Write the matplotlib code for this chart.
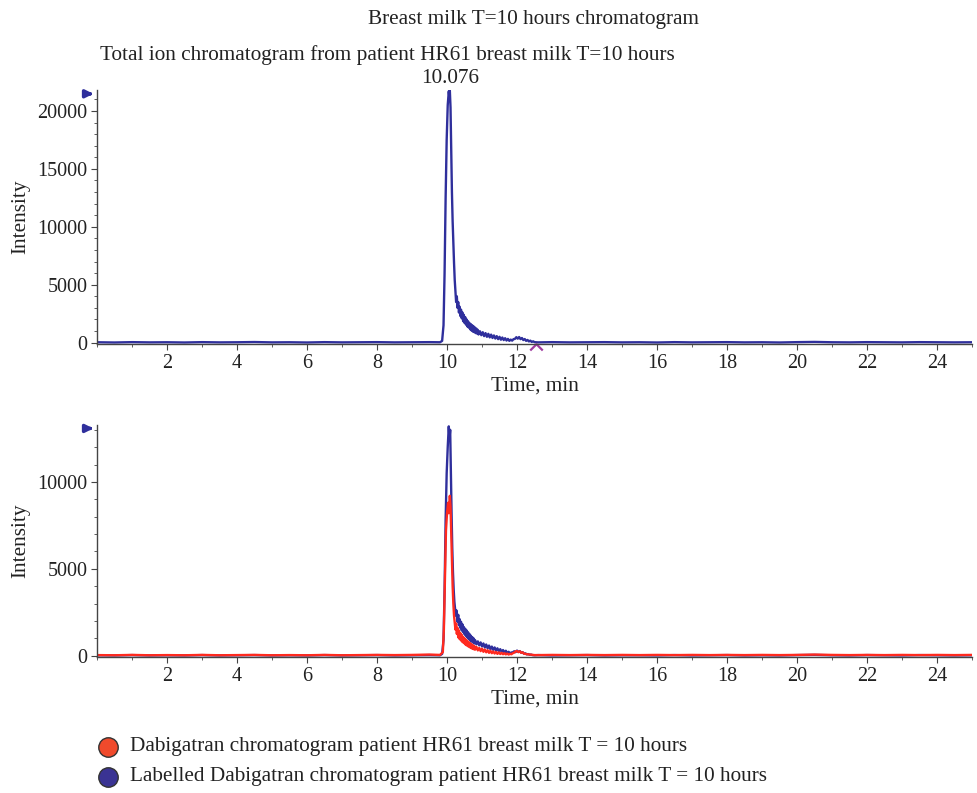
import matplotlib
matplotlib.use("Agg")
import matplotlib.pyplot as plt
from matplotlib.path import Path
from matplotlib.ticker import MultipleLocator

plt.rcParams['font.family'] = ['Liberation Serif', 'DejaVu Serif']

# ---------------- data ----------------
t_tic = [0.0, 0.5, 1.0, 1.5, 2.0, 2.5, 3.0, 3.5, 4.0, 4.5, 5.0, 5.5, 6.0, 6.5, 7.0, 7.5, 8.0,
         8.5, 9.0, 9.5, 9.8, 9.86, 9.90, 9.93, 9.96, 9.99, 10.02, 10.05, 10.07, 10.08, 10.10,
         10.12, 10.14, 10.16, 10.18, 10.20, 10.22, 10.24, 10.26, 10.28, 10.30, 10.32,
         10.34, 10.36, 10.38, 10.40, 10.42, 10.44, 10.46, 10.48, 10.50, 10.52, 10.54, 10.56,
         10.58, 10.60, 10.62, 10.64, 10.66, 10.68, 10.70, 10.72, 10.74, 10.76, 10.78, 10.80,
         10.82, 10.84, 10.86, 10.88, 10.90, 10.94, 10.98, 11.02, 11.06, 11.10, 11.14, 11.18,
         11.22, 11.26, 11.30, 11.34, 11.38, 11.42, 11.46, 11.50, 11.54, 11.58, 11.62, 11.66,
         11.70, 11.74, 11.78, 11.82, 11.86, 11.90, 11.94, 11.98, 12.02, 12.06, 12.10, 12.14,
         12.18, 12.22, 12.26, 12.30, 12.34, 12.38, 12.42, 12.46, 12.50, 12.6, 13.0, 13.5,
         14.0, 14.5, 15.0, 15.5, 16.0, 16.5, 17.0, 17.5, 18.0, 18.5, 19.0, 19.5, 20.0, 20.5,
         21.0, 21.5, 22.0, 22.5, 23.0, 23.5, 24.0, 24.5, 25.0]
i_tic = [30, 10, 40, 20, 30, 10, 40, 20, 30, 50, 20, 30, 10, 40, 20, 30, 40,
         20, 30, 40, 30, 150, 1500, 6000, 12500, 17500, 20500, 21700, 21100, 21800, 20300,
         16500, 13000, 10500, 8600, 6900, 5400, 4500, 3500, 4000, 3000, 3500,
         2600, 3100, 2300, 2850, 2100, 2600, 1850, 2400, 1700, 2200, 1550, 2000,
         1400, 1850, 1300, 1700, 1150, 1600, 1050, 1500, 950, 1400, 900, 1300,
         820, 1200, 780, 1100, 700, 980, 640, 900, 560, 820, 500, 760,
         450, 690, 400, 620, 350, 560, 300, 500, 250, 440, 220, 380,
         180, 320, 150, 260, 170, 300, 320, 470, 340, 480, 300, 400,
         220, 310, 150, 230, 100, 170, 60, 110, 40, 20, 40, 20,
         30, 40, 20, 30, 10, 40, 20, 30, 40, 20, 30, 10, 40, 60,
         30, 20, 40, 30, 20, 40, 30, 20, 30]

t_lab = [0.0, 0.5, 1.0, 1.5, 2.0, 2.5, 3.0, 3.5, 4.0, 4.5, 5.0, 5.5, 6.0, 6.5, 7.0, 7.5, 8.0,
         8.5, 9.0, 9.5, 9.8, 9.86, 9.90, 9.93, 9.96, 9.99, 10.02, 10.05, 10.07, 10.09, 10.11,
         10.13, 10.15, 10.17, 10.19, 10.21, 10.23, 10.25, 10.27, 10.30,
         10.32, 10.34, 10.36, 10.38, 10.40, 10.42, 10.44, 10.46, 10.48, 10.50, 10.52, 10.54,
         10.56, 10.58, 10.60, 10.62, 10.64, 10.66, 10.68, 10.70, 10.72, 10.74, 10.76, 10.78,
         10.80, 10.84, 10.88, 10.92, 10.96, 11.00, 11.04, 11.08, 11.12, 11.16, 11.20, 11.24,
         11.28, 11.32, 11.36, 11.40, 11.44, 11.48, 11.52, 11.56, 11.60, 11.64, 11.68, 11.72,
         11.76, 11.80, 11.84, 11.88, 11.92, 11.96, 12.00, 12.04, 12.08, 12.12, 12.16, 12.20,
         12.24, 12.28, 12.32, 12.36, 12.40, 12.44, 12.50, 12.6, 13.0, 13.5, 14.0, 14.5, 15.0,
         15.5, 16.0, 16.5, 17.0, 17.5, 18.0, 18.5, 19.0, 19.5, 20.0, 20.5, 21.0, 21.5, 22.0,
         22.5, 23.0, 23.5, 24.0, 24.5, 25.0]
i_lab = [20, 10, 30, 10, 20, 10, 30, 10, 20, 30, 10, 20, 10, 30, 10, 20, 30,
         10, 20, 30, 20, 100, 900, 3800, 7800, 10500, 12000, 13200, 12500, 13000, 10600,
         8200, 6200, 4800, 3800, 3100, 2700, 2300, 2600, 1950,
         2350, 1750, 2100, 1600, 1950, 1450, 1800, 1350, 1650, 1230, 1550, 1130,
         1450, 1050, 1350, 950, 1250, 880, 1150, 820, 1070, 760, 990, 700,
         900, 650, 820, 590, 760, 530, 700, 470, 640, 420, 580, 370,
         520, 330, 470, 290, 420, 250, 370, 220, 320, 180, 280, 150,
         220, 130, 180, 190, 250, 200, 290, 210, 260, 160, 200, 110,
         130, 70, 90, 50, 60, 30, 20, 30, 10, 20, 30, 10, 20,
         20, 10, 30, 10, 20, 30, 10, 20, 10, 30, 40, 20, 10, 30,
         20, 10, 30, 20, 10, 20]

t_dab = [0.0, 0.5, 1.0, 1.5, 2.0, 2.5, 3.0, 3.5, 4.0, 4.5, 5.0, 5.5, 6.0, 6.5, 7.0, 7.5, 8.0,
         8.5, 9.0, 9.5, 9.8, 9.88, 9.91, 9.94, 9.97, 10.00, 10.03, 10.05, 10.08, 10.10,
         10.12, 10.14, 10.16, 10.18, 10.20, 10.22, 10.24, 10.26, 10.28, 10.30, 10.32,
         10.34, 10.36, 10.38, 10.40, 10.42, 10.44, 10.46, 10.48, 10.50, 10.52, 10.54, 10.56,
         10.58, 10.60, 10.62, 10.64, 10.66, 10.68, 10.70, 10.72, 10.74, 10.76, 10.78, 10.80,
         10.84, 10.88, 10.92, 10.96, 11.00, 11.04, 11.08, 11.12, 11.16, 11.20, 11.24, 11.28,
         11.32, 11.36, 11.40, 11.44, 11.48, 11.52, 11.56, 11.60, 11.64, 11.68, 11.72, 11.76,
         11.80, 11.84, 11.88, 11.92, 11.96, 12.00, 12.04, 12.08, 12.12, 12.16, 12.20, 12.24,
         12.28, 12.32, 12.36, 12.40, 12.44, 12.50, 12.6, 13.0, 13.5, 14.0, 14.5, 15.0,
         15.5, 16.0, 16.5, 17.0, 17.5, 18.0, 18.5, 19.0, 19.5, 20.0, 20.5, 21.0, 21.5, 22.0,
         22.5, 23.0, 23.5, 24.0, 24.5, 25.0]
i_dab = [30, 20, 40, 20, 30, 20, 40, 20, 30, 40, 20, 30, 20, 40, 20, 30, 40,
         30, 40, 60, 40, 200, 1500, 4500, 7200, 8200, 8800, 8200, 9200, 8600,
         7100, 5400, 4000, 3000, 2300, 1900, 1500, 1850, 1250, 1600, 1050,
         1450, 950, 1300, 870, 1200, 780, 1080, 720, 1000, 650, 920, 590,
         850, 540, 780, 490, 720, 440, 660, 400, 600, 370, 550, 340,
         500, 300, 440, 260, 400, 220, 350, 190, 310, 160, 280, 140,
         240, 120, 210, 100, 190, 90, 160, 80, 140, 70, 120, 60,
         100, 80, 140, 170, 240, 260, 200, 250, 160, 190, 110, 100,
         80, 70, 60, 50, 40, 30, 30, 40, 30, 40, 30, 40,
         30, 40, 30, 40, 30, 40, 30, 40, 30, 40, 60, 40, 30, 40,
         30, 40, 30, 40, 30, 40]

x_ticks = [2, 4, 6, 8, 10, 12, 14, 16, 18, 20, 22, 24]
peak_label = "10.076"
peak_time = 10.076
peak_int = 21800
marker_time = 12.55

BLUE = "#2f2f9c"
RED = "#ff2a1f"

fig = plt.figure(figsize=(9.78, 7.93), dpi=100)
ax1 = fig.add_axes([0.0992, 0.5662, 0.8947, 0.3203])
ax2 = fig.add_axes([0.0992, 0.1715, 0.8947, 0.2926])

FS = 15.3
TFS = 14.5
for ax in (ax1, ax2):
    ax.set_xlim(0, 25)
    for s in ("top", "right"):
        ax.spines[s].set_visible(False)
    ax.spines["left"].set_color("#444444")
    ax.spines["bottom"].set_color("#444444")
    ax.spines["left"].set_linewidth(1.0)
    ax.spines["bottom"].set_linewidth(1.0)
    ax.set_xticks(x_ticks)
    ax.xaxis.set_minor_locator(MultipleLocator(1))
    ax.yaxis.set_minor_locator(MultipleLocator(1000))
    ax.tick_params(axis="both", which="major", labelsize=TFS, length=4, width=0.8,
                   color="#444444", labelcolor="#222222", pad=3)
    ax.tick_params(axis="both", which="minor", length=2.5, width=0.6, color="#444444")
    ax.set_xlabel("Time, min", fontsize=FS, color="#222222", labelpad=3)
    ax.set_ylabel("Intensity", fontsize=FS, color="#222222", labelpad=5)
    ax.annotate("", xy=(-0.001, 0.985), xytext=(-0.013, 0.985), xycoords="axes fraction",
                arrowprops=dict(arrowstyle="-|>", color=BLUE, lw=2.4, mutation_scale=11),
                annotation_clip=False)

ax1.plot(t_tic, i_tic, color=BLUE, lw=1.7)
ax1.set_ylim(-120, 21810)
ax1.set_yticks([0, 5000, 10000, 15000, 20000])
ax1.text(peak_time, peak_int + 150, peak_label, ha="center", va="bottom", fontsize=FS,
         color="#222222")
chev = Path([(-1, 0.0), (0, 1.0), (1, 0.0)], [Path.MOVETO, Path.LINETO, Path.LINETO])
ax1.plot([marker_time], [-650], marker=chev, markersize=9, color="#a03ca0",
         markeredgewidth=1.6, fillstyle="none", linestyle="none", clip_on=False)

ax2.plot(t_lab, i_lab, color=BLUE, lw=1.7)
ax2.plot(t_dab, i_dab, color=RED, lw=1.7)
ax2.set_ylim(-80, 13280)
ax2.set_yticks([0, 5000, 10000])

fig.text(0.545, 0.976, "Breast milk T=10 hours chromatogram", ha="center", va="center",
         fontsize=FS, color="#222222")
fig.text(0.396, 0.931, "Total ion chromatogram from patient HR61 breast milk T=10 hours",
         ha="center", va="center", fontsize=FS, color="#222222")

# legend
leg_items = [("Dabigatran chromatogram patient HR61 breast milk T = 10 hours", "#f04a2c"),
             ("Labelled Dabigatran chromatogram patient HR61 breast milk T = 10 hours", "#3a3393")]
for k, (lab, col) in enumerate(leg_items):
    y = 1 - (747 + 30 * k) / 793
    fig.add_artist(plt.Line2D([108 / 978], [y], marker="o", markersize=14,
                              markerfacecolor=col, markeredgecolor="#333333",
                              markeredgewidth=1.0, linestyle="none", transform=fig.transFigure))
    fig.text(130 / 978, y, lab, ha="left", va="center", fontsize=FS, color="#222222")

fig.savefig("out.png", dpi=100)
